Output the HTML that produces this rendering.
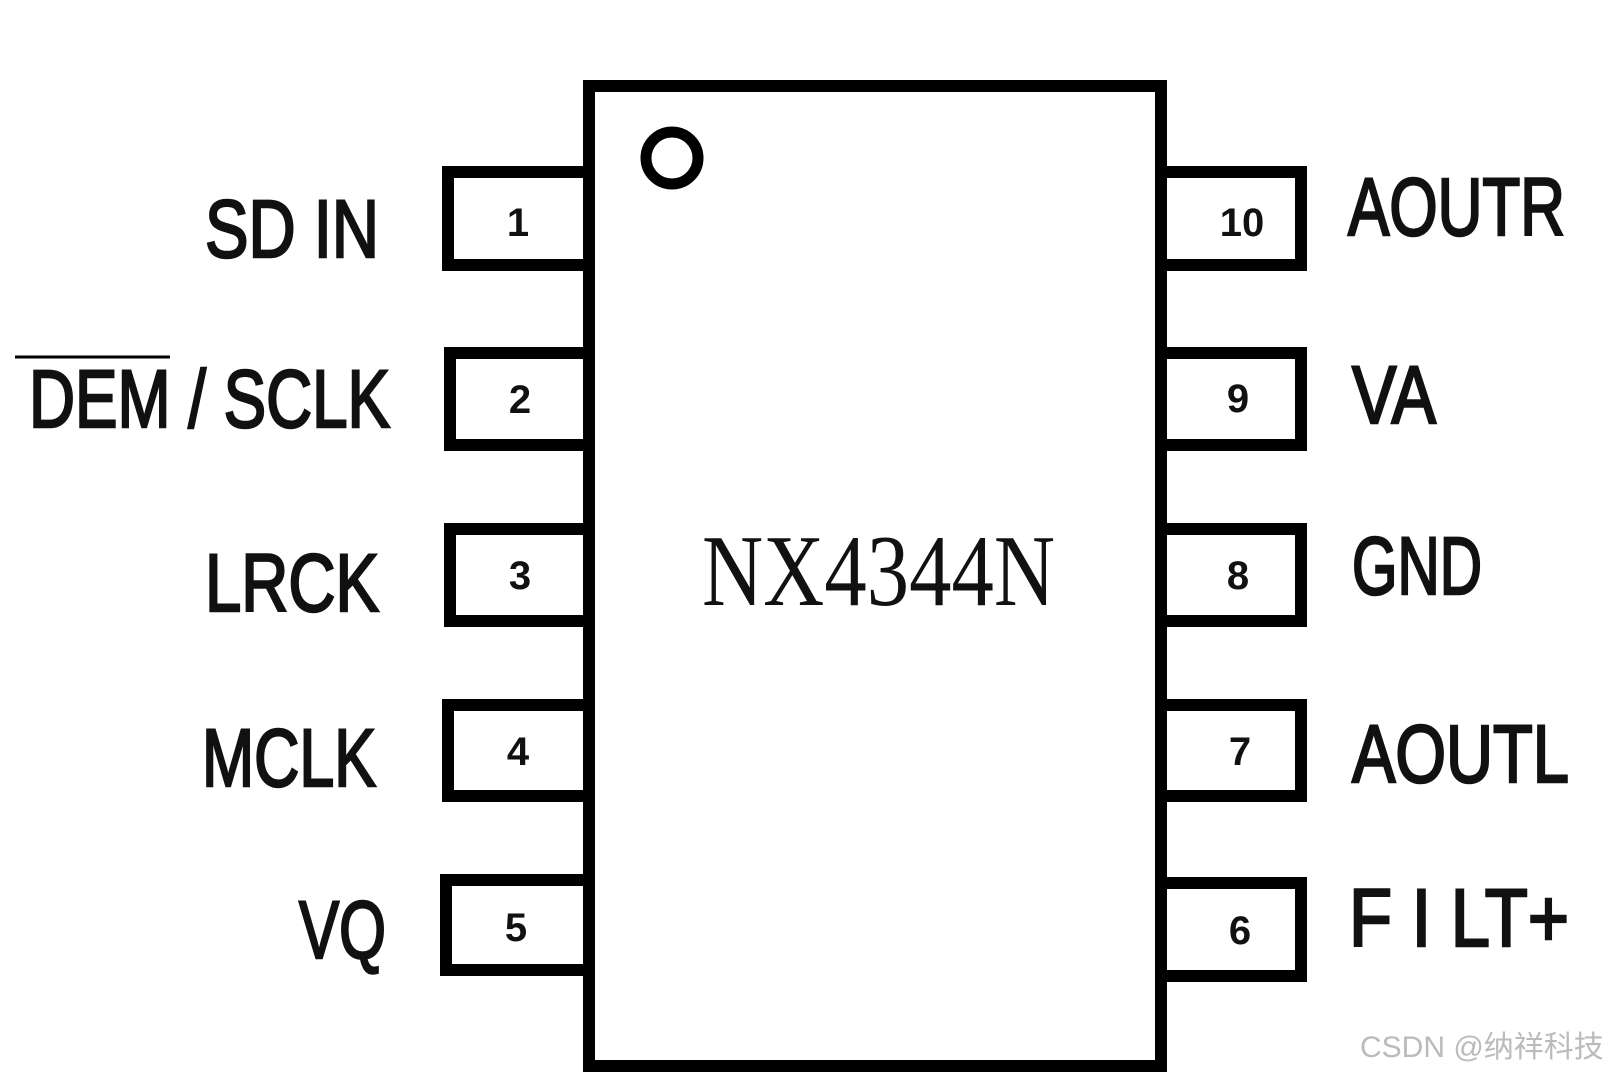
<!DOCTYPE html>
<html><head><meta charset="utf-8"><style>
html,body{margin:0;padding:0;background:#fff;}
svg{display:block;}
</style></head><body>
<svg width="1608" height="1080" viewBox="0 0 1608 1080" xmlns="http://www.w3.org/2000/svg">
<rect width="1608" height="1080" fill="#fff"/>
<g fill="none" stroke="#000" stroke-width="12">
<rect x="589" y="86" width="572" height="980"/>
<circle cx="672" cy="158" r="26" stroke-width="11"/>
<path d="M589 172 H448 V265 H589"/>
<path d="M589 353 H450 V445 H589"/>
<path d="M589 529 H450 V621 H589"/>
<path d="M589 705 H448 V796 H589"/>
<path d="M589 880 H446 V970 H589"/>
<path d="M1161 172 H1301 V265 H1161"/>
<path d="M1161 353 H1301 V445 H1161"/>
<path d="M1161 529 H1301 V621 H1161"/>
<path d="M1161 705 H1301 V796 H1161"/>
<path d="M1161 883 H1301 V976 H1161"/>
</g>
<line x1="15" y1="357" x2="170" y2="357" stroke="#000" stroke-width="3"/>
<g font-family="Liberation Sans, sans-serif" font-size="82" fill="#111" stroke="#111" stroke-width="2.5">
<text x="205" y="257" textLength="174" lengthAdjust="spacingAndGlyphs">SD IN</text>
<text x="29" y="427" textLength="361" lengthAdjust="spacingAndGlyphs">DEM / SCLK</text>
<text x="205" y="611" textLength="174" lengthAdjust="spacingAndGlyphs">LRCK</text>
<text x="202" y="786" textLength="174" lengthAdjust="spacingAndGlyphs">MCLK</text>
<text x="299" y="958" textLength="87" lengthAdjust="spacingAndGlyphs">VQ</text>
<text x="1348" y="235" textLength="217" lengthAdjust="spacingAndGlyphs">AOUTR</text>
<text x="1352" y="423" textLength="84" lengthAdjust="spacingAndGlyphs">VA</text>
<text x="1352" y="594" textLength="130" lengthAdjust="spacingAndGlyphs">GND</text>
<text x="1352" y="782" textLength="217" lengthAdjust="spacingAndGlyphs">AOUTL</text>
<text x="1349" y="946" textLength="220" lengthAdjust="spacingAndGlyphs">F I LT+</text>
</g>
<g font-family="Liberation Sans, sans-serif" font-weight="bold" font-size="40" fill="#111" text-anchor="middle">
<text x="518" y="236">1</text>
<text x="520" y="413">2</text>
<text x="520" y="589">3</text>
<text x="518" y="765">4</text>
<text x="516" y="941">5</text>
<text x="1242" y="236">10</text>
<text x="1238" y="412">9</text>
<text x="1238" y="589">8</text>
<text x="1240" y="765">7</text>
<text x="1240" y="944">6</text>
</g>
<text x="702" y="605" font-family="Liberation Serif, serif" font-size="102" fill="#111" textLength="353" lengthAdjust="spacingAndGlyphs">NX4344N</text>
<text x="1360" y="1057" font-family="Liberation Sans, 'Noto Sans CJK SC', sans-serif" font-size="30" fill="#bbb">CSDN @纳祥科技</text>
</svg>
</body></html>
